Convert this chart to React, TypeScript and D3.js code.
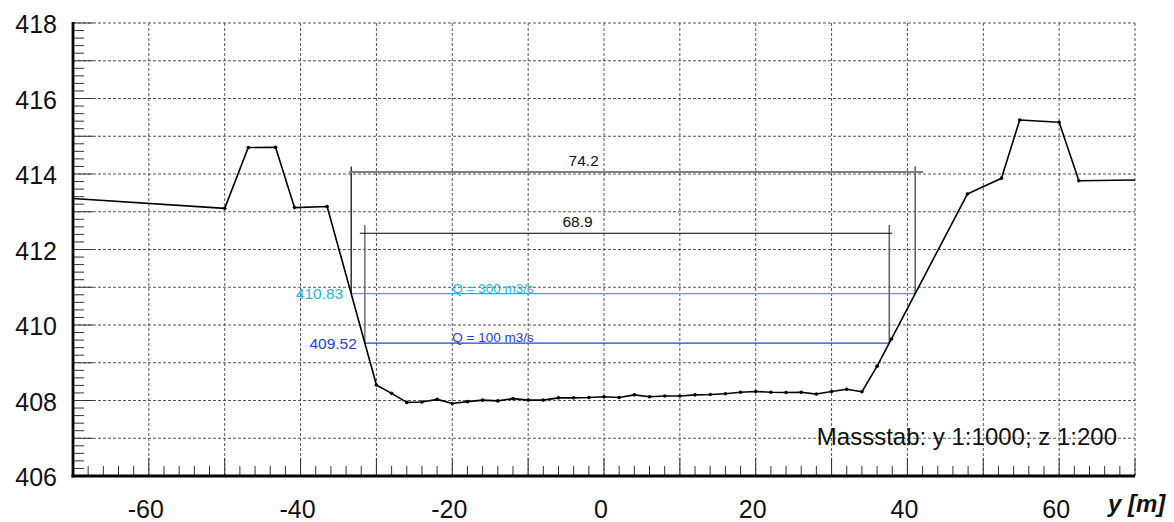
import React from "react";
import * as d3 from "d3";

// ---- data ----
const profileY = [
  -70, -50, -46.9, -43.3, -40.8, -36.5, -30, -28, -26, -24, -22, -20, -18, -16, -14, -12, -10, -8, -6, -4, -2,
  0, 2, 4, 6, 8, 10, 12, 14, 16, 18, 20, 22, 24, 26, 28, 30, 32, 34, 36, 37.9, 47.9, 52.4, 54.8, 60, 62.6, 70,
];
const profileZ = [
  413.35, 413.09, 414.7, 414.71, 413.11, 413.14, 408.41, 408.19, 407.95, 407.96, 408.03, 407.92, 407.97, 408.01,
  407.99, 408.05, 408.01, 408.01, 408.07, 408.07, 408.08, 408.1, 408.08, 408.15, 408.1, 408.12, 408.12, 408.15,
  408.16, 408.18, 408.22, 408.24, 408.22, 408.21, 408.22, 408.17, 408.24, 408.3, 408.23, 408.91, 409.63, 413.47,
  413.89, 415.43, 415.37, 413.82, 413.84,
];
const waterLevels = [410.83, 409.52];
const waterLabels = ["Q = 300 m3/s", "Q = 100 m3/s"];
const waterLevelLabels = ["410.83", "409.52"];
const widthLabels = ["74.2", "68.9"];
const dimLineZ = [414.05, 412.43];
const dimTopZ = [414.2, 412.65];
const qLabelY = -20;
const xTicks = [-60, -40, -20, 0, 20, 40, 60];
const yTicks = [406, 408, 410, 412, 414, 416, 418];
const scaleNote = "Massstab: y 1:1000; z 1:200";
const axisTitle = "y [m]";

// ---- layout ----
const W = 1174;
const H = 522;
const X0 = 73;
const X1 = 1135;
const Y0 = 23;
const Y1 = 476;
const FONT = "'Liberation Sans', Arial, Helvetica, sans-serif";
const waterColors = ["#1fb4e6", "#2242d8"];

function intersections(level: number): [number, number] {
  let minI = 0;
  profileZ.forEach((z, i) => {
    if (z < profileZ[minI]) minI = i;
  });
  let left = profileY[0];
  for (let i = minI; i > 0; i--) {
    if (profileZ[i - 1] >= level && profileZ[i] < level) {
      const t = (level - profileZ[i]) / (profileZ[i - 1] - profileZ[i]);
      left = profileY[i] + t * (profileY[i - 1] - profileY[i]);
      break;
    }
  }
  let right = profileY[profileY.length - 1];
  for (let i = minI; i < profileZ.length - 1; i++) {
    if (profileZ[i + 1] >= level && profileZ[i] < level) {
      const t = (level - profileZ[i]) / (profileZ[i + 1] - profileZ[i]);
      right = profileY[i] + t * (profileY[i + 1] - profileY[i]);
      break;
    }
  }
  return [left, right];
}

export default function App() {
  const x = d3.scaleLinear().domain([-70, 70]).range([X0, X1]);
  const y = d3.scaleLinear().domain([406, 418]).range([Y1, Y0]);

  const pts: [number, number][] = profileY.map((v, i) => [v, profileZ[i]]);
  const line = d3
    .line<[number, number]>()
    .x((d) => x(d[0]))
    .y((d) => y(d[1]));

  const vGrid = d3.range(-60, 71, 10);
  const hGrid = d3.range(407, 418.5, 1);
  const yMinor = d3.range(406, 418.01, 0.2).map((v) => Math.round(v * 10) / 10);
  const xMinor = d3.range(-70, 70.01, 2);

  const dimExt = [
    [-2, 8],
    [-5, 3],
  ];

  return (
    <svg
      width={W}
      height={H}
      style={{ position: "absolute", left: 0, top: 0, background: "#fff" }}
      fontFamily={FONT}
    >
      {/* grid */}
      <g stroke="#555" strokeWidth={1} strokeDasharray="3,2" fill="none">
        {hGrid.map((v) => (
          <line key={"h" + v} x1={X0} x2={X1} y1={y(v)} y2={y(v)} />
        ))}
        {vGrid.map((v) => (
          <line key={"v" + v} x1={x(v)} x2={x(v)} y1={Y0} y2={Y1} />
        ))}
      </g>

      {/* y ticks */}
      <g stroke="#333" strokeWidth={1}>
        {yMinor.map((v) => {
          const major = Math.abs(v - Math.round(v)) < 1e-6;
          return <line key={"ym" + v} x1={X0} x2={X0 + (major ? 20 : 11)} y1={y(v)} y2={y(v)} />;
        })}
        {xMinor.map((v) => {
          const major = Math.abs(v % 10) < 1e-6;
          return <line key={"xm" + v} x1={x(v)} x2={x(v)} y1={Y1} y2={Y1 - (major ? 18 : 10)} />;
        })}
      </g>

      {/* water levels + dimension lines */}
      {waterLevels.map((lv, i) => {
        const [l, r] = intersections(lv);
        const xl = x(l);
        const xr = x(r);
        const yl = y(lv);
        const yd = y(dimLineZ[i]);
        const yt = y(dimTopZ[i]);
        return (
          <g key={"w" + i}>
            <line x1={xl} x2={xl} y1={yt} y2={yl} stroke={i === 0 ? "#222" : "#666"} strokeWidth={1.4} />
            <line x1={xr} x2={xr} y1={yt} y2={yl} stroke="#666" strokeWidth={1.6} />
            <line
              x1={xl + dimExt[i][0]}
              x2={xr + dimExt[i][1]}
              y1={yd}
              y2={yd}
              stroke={i === 0 ? "#808080" : "#000"}
              strokeWidth={i === 0 ? 2 : 1.2}
            />
            <text x={(xl + xr) / 2 - 49.5} y={yd - 6} fontSize={15.5} textAnchor="middle" fill="#111">
              {widthLabels[i]}
            </text>
            <line x1={xl} x2={xr} y1={yl} y2={yl} stroke={waterColors[i]} strokeWidth={1.3} />
            <text x={xl - 8} y={yl + 5.5} fontSize={15.5} textAnchor="end" fill={waterColors[i]}>
              {waterLevelLabels[i]}
            </text>
            <text x={x(qLabelY)} y={yl - 1} fontSize={13.5} fill={waterColors[i]}>
              {waterLabels[i]}
            </text>
          </g>
        );
      })}

      {/* profile */}
      <path d={line(pts) || ""} fill="none" stroke="#000" strokeWidth={1.6} strokeLinejoin="round" />
      {pts
        .filter((p) => p[0] > -70 && p[0] < 70)
        .map((p, i) => (
          <circle key={"p" + i} cx={x(p[0])} cy={y(p[1])} r={1.8} fill="#000" />
        ))}

      {/* axes */}
      <line x1={X0} x2={X0} y1={Y0 - 1} y2={Y1 + 1.5} stroke="#000" strokeWidth={2.8} />
      <line x1={X0 - 1.5} x2={X1} y1={Y1} y2={Y1} stroke="#000" strokeWidth={2.8} />

      {/* tick labels */}
      <g fontSize={25} fill="#111">
        {yTicks.map((v) => (
          <text key={"yl" + v} x={X0 - 16} y={y(v) + 10} textAnchor="end">
            {v}
          </text>
        ))}
        {xTicks.map((v) => (
          <text key={"xl" + v} x={x(v) - 3} y={518} textAnchor="middle">
            {v}
          </text>
        ))}
      </g>

      <text x={1108} y={512} fontSize={24} fontWeight="bold" fontStyle="italic" fill="#111">
        {axisTitle}
      </text>
      <text x={1117} y={445} fontSize={24} textAnchor="end" fill="#111">
        {scaleNote}
      </text>
    </svg>
  );
}
